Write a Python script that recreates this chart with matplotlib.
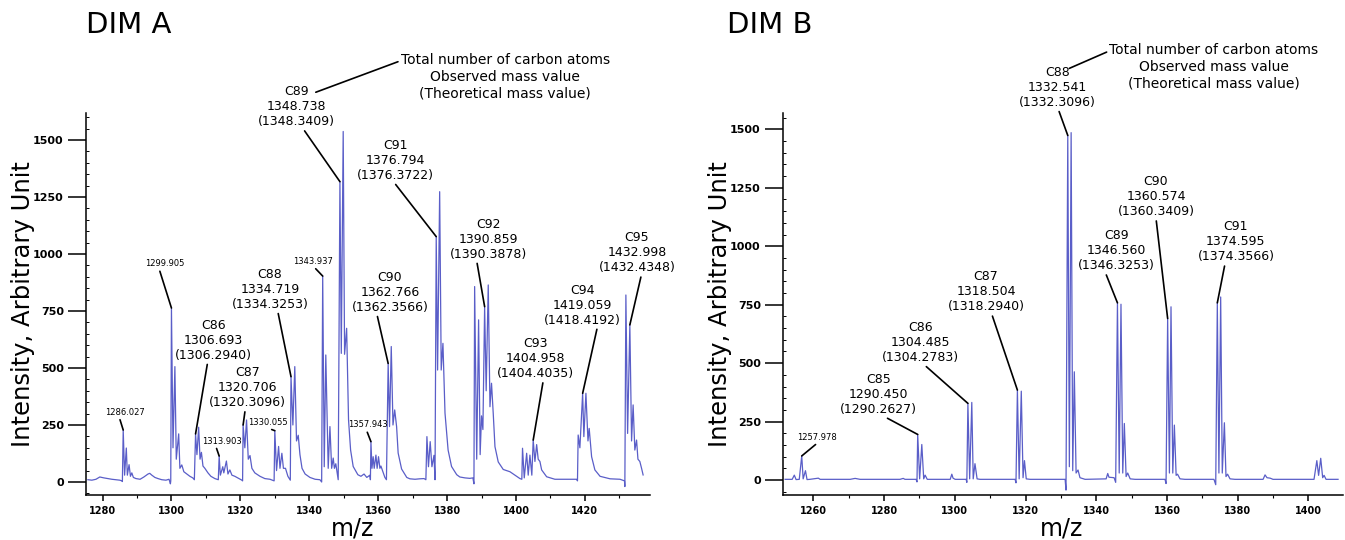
import matplotlib
matplotlib.use("Agg")
import matplotlib.pyplot as plt
from matplotlib.ticker import MultipleLocator

# ---------------- data: DIM A spectrum (m/z, intensity) ----------------
mz_a = [1275.75, 1276.9, 1278.1, 1279.2, 1280.4, 1281.5, 1282.7, 1283.9, 1285.0, 1285.6, 1285.76,
        1286.0, 1286.4, 1286.9, 1287.2, 1287.7, 1288.1, 1288.5, 1288.95, 1289.7, 1290.9, 1292.0,
        1293.2, 1293.7, 1294.3, 1295.2, 1296.1, 1297.2, 1298.4, 1299.3, 1299.7, 1299.8,
        1300.0, 1300.45, 1301.0, 1301.4, 1302.1, 1302.45, 1303.0, 1303.6, 1304.5, 1305.35, 1306.2, 1306.65,
        1307.0, 1307.4, 1307.9, 1308.3, 1308.7, 1309.15, 1309.7, 1310.6, 1311.45, 1312.6, 1313.6,
        1313.85, 1314.2, 1314.9, 1315.2, 1315.95, 1316.4, 1316.95, 1317.55, 1318.4, 1319.6, 1320.45, 1320.65,
        1320.8, 1321.3, 1321.8, 1322.3, 1322.8, 1323.35, 1324.2, 1325.7, 1327.1, 1328.6, 1329.8,
        1330.0, 1330.5, 1331.1, 1331.5, 1332.05, 1332.5, 1333.1, 1333.8, 1334.5,
        1334.7, 1335.25, 1335.8, 1336.3, 1336.8, 1337.3, 1337.9, 1338.8, 1340.2, 1341.7, 1343.1, 1343.6,
        1343.9, 1344.35, 1344.8, 1345.5, 1346.0, 1346.5, 1346.95, 1347.3, 1347.7, 1348.1, 1348.4,
        1348.9, 1349.3, 1349.85, 1350.25, 1350.85, 1351.4, 1352.0, 1352.75, 1354.1, 1355.0, 1355.9, 1356.7,
        1357.6, 1357.75, 1357.9, 1358.2, 1358.55, 1358.85, 1359.35, 1359.7, 1360.1, 1360.5, 1360.8, 1361.95,
        1362.4, 1362.9, 1363.3, 1363.8, 1364.3, 1364.8, 1365.35, 1365.8, 1366.8, 1368.3, 1369.2, 1370.7,
        1372.1, 1373.3, 1373.85, 1374.15, 1374.6, 1375.1, 1375.6, 1376.2, 1376.5,
        1376.85, 1377.25, 1377.85, 1378.3, 1378.8, 1379.4, 1380.3, 1381.3, 1382.8, 1383.7, 1385.2, 1386.6,
        1387.5, 1387.8, 1388.0, 1388.6, 1389.15, 1389.6, 1390.0, 1390.4, 1390.9, 1391.35, 1391.95, 1392.45,
        1392.9, 1393.4, 1393.9, 1394.85, 1396.3, 1398.25, 1399.7, 1401.15, 1401.7,
        1401.9, 1402.4, 1403.1, 1403.55, 1404.05, 1404.6, 1405.0, 1405.5, 1406.0, 1406.45, 1406.95, 1407.45,
        1408.9, 1411.3, 1414.2, 1417.6, 1417.85,
        1418.05, 1418.55, 1419.35, 1419.7, 1420.3, 1420.9, 1421.25, 1421.95, 1422.9, 1424.4, 1427.3, 1430.2,
        1431.5, 1431.6, 1431.9, 1432.4, 1433.05, 1433.55, 1434.0, 1434.5, 1435.0, 1435.4, 1435.95, 1436.45, 1436.9]
int_a = [10, 8, 12, 22, 18, 15, 12, 10, 8, 5, 2,
         228, 30, 149, 30, 76, 25, 40, 20, 15, 12, 22,
         35, 38, 30, 20, 15, 10, 8, 12, -8, 5,
         763, 150, 506, 100, 211, 60, 75, 45, 35, 25, 18, 10,
         211, 120, 240, 100, 130, 70, 60, 40, 25, 15, 10,
         114, 30, 67, 40, 92, 35, 53, 30, 25, 15, 8, 5,
         250, 150, 272, 100, 116, 60, 40, 25, 15, 12, 5,
         225, 50, 156, 60, 126, 60, 60, 25, 8,
         462, 250, 506, 180, 205, 120, 60, 35, 20, 12, 10, 0,
         903, 67, 557, 60, 243, 60, 105, 60, 80, 40, 10,
         1317, 564, 1537, 560, 674, 272, 140, 68, 32, 25, 35, 20,
         30, 10, 177, 60, 111, 60, 118, 60, 111, 60, 70, 20,
         10, 520, 243, 594, 250, 316, 243, 127, 57, 20, 14, 12,
         14, 15, 10, 199, 67, 177, 67, 117, 10,
         1076, 491, 1273, 491, 608, 302, 140, 68, 32, 22, 18, 16,
         18, -8, 857, 100, 711, 120, 290, 230, 769, 400, 864, 330,
         433, 300, 155, 88, 55, 45, 30, 15, 12,
         148, 18, 126, 30, 118, 30, 184, 90, 164, 100, 90, 53,
         23, 12, 12, 12, 5,
         206, 150, 389, 199, 389, 180, 235, 111, 53, 25, 14, 12,
         5, -20, 820, 213, 689, 180, 338, 140, 184, 100, 90, 60, 31]

# ---------------- data: DIM B spectrum ----------------
mz_b = [1252.0, 1254.0, 1254.6, 1255.1, 1256.0, 1256.7, 1257.1, 1257.75, 1258.2, 1259.0, 1261.4, 1261.9,
        1270.4, 1271.8, 1273.2, 1284.5, 1285.4, 1285.9, 1289.05, 1289.3, 1289.5, 1290.05, 1290.66, 1291.2,
        1291.6, 1292.2, 1298.7, 1299.15, 1299.5, 1300.1, 1303.2, 1303.4, 1303.7, 1304.2, 1304.8, 1305.2,
        1305.7, 1306.3, 1307.15, 1317.05, 1317.3, 1317.7, 1318.2, 1318.8, 1319.3, 1319.7, 1320.2, 1321.3,
        1331.2, 1331.45, 1331.95, 1332.4, 1332.9, 1333.35, 1333.8, 1334.3, 1334.85, 1335.4, 1336.85,
        1342.8, 1343.25, 1343.6, 1345.05, 1345.5, 1346.0, 1346.5, 1347.0, 1347.5, 1347.95, 1348.45, 1348.9,
        1349.6, 1351.0, 1359.45, 1359.75, 1360.2, 1360.7, 1361.15, 1361.65, 1362.1, 1362.6, 1363.0, 1363.7,
        1365.1, 1373.3, 1373.8, 1374.25, 1374.7, 1375.2, 1375.65, 1376.25, 1376.7, 1377.15, 1377.85, 1379.25,
        1387.2, 1387.75, 1388.3, 1389.2, 1390.0, 1401.6, 1402.4, 1402.9, 1403.5, 1404.05, 1404.45, 1405.0,
        1408.4]
int_b = [3, 3, 21, 2, 3, 103, 5, 40, 2, 3, 8, 3,
         3, 7, 3, 3, 7, 3, 3, -8, 195, 5, 152, 5,
         21, 3, 3, 25, 8, 3, 3, -10, 328, 5, 332, 5,
         70, 5, 3, 3, -12, 385, 5, 380, 10, 83, 5, 3,
         3, -43, 1474, 57, 1486, 40, 463, 30, 43, 10, 3,
         5, 28, 12, 10, -10, 758, 30, 752, 30, 242, 15, 30,
         5, 3, 3, -15, 691, 30, 741, 30, 235, 20, 25, 5,
         3, 3, -20, 758, 30, 783, 30, 245, 15, 25, 5, 3,
         3, 22, 10, 8, 3, 3, 83, 20, 93, 10, 20, 3,
         3]

# ---------------- annotations ----------------
ann_a_text = ["1286.027", "1299.905", "C86\n1306.693\n(1306.2940)", "1313.903",
              "C87\n1320.706\n(1320.3096)", "1330.055", "C88\n1334.719\n(1334.3253)",
              "1343.937", "C89\n1348.738\n(1348.3409)", "1357.943",
              "C90\n1362.766\n(1362.3566)", "C91\n1376.794\n(1376.3722)",
              "C92\n1390.859\n(1390.3878)", "C93\n1404.958\n(1404.4035)",
              "C94\n1419.059\n(1418.4192)", "C95\n1432.998\n(1432.4348)"]
ann_a_peak_mz = [1286.0, 1300.0, 1307.0, 1313.85, 1320.8, 1330.0, 1334.7, 1343.9, 1348.9,
                 1357.9, 1362.9, 1376.85, 1390.9, 1405.0, 1419.35, 1433.05]
ann_a_peak_int = [228, 763, 211, 114, 250, 225, 462, 903, 1317, 177, 520, 1076, 769, 184, 389, 689]
ann_a_pos = [(1286.55, 305), (1298.1, 956), (1312.1, 622), (1314.55, 179), (1322.1, 414),
             (1328.1, 262), (1328.6, 845), (1341.1, 967), (1336.3, 1646), (1357.1, 250),
             (1363.4, 832), (1364.9, 1411), (1391.95, 1065), (1405.7, 541), (1419.2, 776),
             (1435.1, 1005)]
ann_a_rel = [(0.35, 0), (0.35, 0), (0.43, 0), (0.35, 0), (0.47, 0), (0.4, 0), (0.6, 0), (0.5, 0),
             (0.58, 0), (0.45, 0), (0.33, 0), (0.48, 0), (0.35, 0), (0.6, 0), (0.7, 0), (0.56, 0)]

ann_b_text = ["1257.978", "C85\n1290.450\n(1290.2627)", "C86\n1304.485\n(1304.2783)",
              "C87\n1318.504\n(1318.2940)", "C88\n1332.541\n(1332.3096)",
              "C89\n1346.560\n(1346.3253)", "C90\n1360.574\n(1360.3409)",
              "C91\n1374.595\n(1374.3566)"]
ann_b_peak_mz = [1256.7, 1289.5, 1303.7, 1317.7, 1331.95, 1346.0, 1360.2, 1374.25]
ann_b_peak_int = [103, 195, 328, 385, 1474, 758, 691, 758]
ann_b_pos = [(1261.0, 183), (1278.4, 368), (1290.4, 589), (1308.85, 805), (1329.0, 1680),
             (1345.8, 981), (1356.9, 1212), (1379.5, 1019)]
ann_b_rel = [(0.55, 0), (0.55, 0), (0.53, 0), (0.57, 0), (0.51, 0), (0.35, 0), (0.5, 0), (0.36, 0)]

legend_text = "Total number of carbon atoms\nObserved mass value\n(Theoretical mass value)"

LINE = "#5a5ec8"

fig = plt.figure(figsize=(13.45, 5.4), dpi=100)
axA = fig.add_axes([86 / 1345, 45 / 540, 564 / 1345, 382 / 540])
axB = fig.add_axes([783 / 1345, 45 / 540, 560 / 1345, 382 / 540])


def style(ax, xlim, ylim):
    ax.set_xlim(*xlim)
    ax.set_ylim(*ylim)
    for s in ("top", "right"):
        ax.spines[s].set_visible(False)
    for s in ("left", "bottom"):
        ax.spines[s].set_linewidth(1.1)
    ax.set_yticks([0, 250, 500, 750, 1000, 1250, 1500])
    ax.xaxis.set_major_locator(MultipleLocator(20))
    ax.xaxis.set_minor_locator(MultipleLocator(10))
    ax.yaxis.set_minor_locator(MultipleLocator(50))
    ax.tick_params(axis="y", which="major", direction="out", length=13, width=1.1, pad=3.0, labelsize=8)
    ax.tick_params(axis="y", which="minor", direction="in", length=2.5, width=0.7)
    ax.tick_params(axis="x", which="major", direction="out", length=4.5, width=1.1, pad=3.5, labelsize=7)
    ax.tick_params(axis="x", which="minor", direction="out", length=2.5, width=0.8)
    for lab in ax.get_xticklabels() + ax.get_yticklabels():
        lab.set_fontweight("bold")
    ax.set_ylabel("Intensity, Arbitrary Unit", fontsize=17.5, va="center")
    ax.set_xlabel("m/z", fontsize=17)


def annotate(ax, text, xy, pos, rel, fs):
    ax.annotate(text, xy=xy, xytext=pos, ha="center", va="center", fontsize=fs,
                linespacing=1.2, annotation_clip=False,
                arrowprops=dict(arrowstyle="-", color="black", lw=1.2, shrinkA=0, shrinkB=0, relpos=rel))


# ---- DIM A ----
axA.plot(mz_a, int_a, color=LINE, lw=0.9)
style(axA, (1275.2, 1438.9), (-57, 1618))
axA.yaxis.set_label_coords(-0.1125, 0.5)
axA.xaxis.set_label_coords(0.473, -0.056)
for t, px, py, pos, rel in zip(ann_a_text, ann_a_peak_mz, ann_a_peak_int, ann_a_pos, ann_a_rel):
    annotate(axA, t, (px, py), pos, rel, 9 if "\n" in t else 6)
axA.annotate(legend_text, xy=(1341.9, 1709), xytext=(1396.9, 1778), ha="center", va="center",
             fontsize=10, linespacing=1.27, annotation_clip=False,
             arrowprops=dict(arrowstyle="-", color="black", lw=1.2, shrinkA=0, shrinkB=0, relpos=(0, 0.83)))

# ---- DIM B ----
axB.plot(mz_b, int_b, color=LINE, lw=0.9)
style(axB, (1251.4, 1409.8), (-64, 1570))
axB.yaxis.set_label_coords(-0.1125, 0.5)
axB.xaxis.set_label_coords(0.498, -0.056)
for t, px, py, pos, rel in zip(ann_b_text, ann_b_peak_mz, ann_b_peak_int, ann_b_pos, ann_b_rel):
    annotate(axB, t, (px, py), pos, rel, 9 if "\n" in t else 6)
axB.annotate(legend_text, xy=(1332.4, 1761), xytext=(1373.3, 1768), ha="center", va="center",
             fontsize=10, linespacing=1.27, annotation_clip=False,
             arrowprops=dict(arrowstyle="-", color="black", lw=1.2, shrinkA=0, shrinkB=0, relpos=(0, 0.83)))

fig.text(86 / 1345, 1 - 25 / 540, "DIM A", fontsize=21, ha="left", va="center")
fig.text(727 / 1345, 1 - 25 / 540, "DIM B", fontsize=21, ha="left", va="center")

fig.savefig("out.png", dpi=100)
